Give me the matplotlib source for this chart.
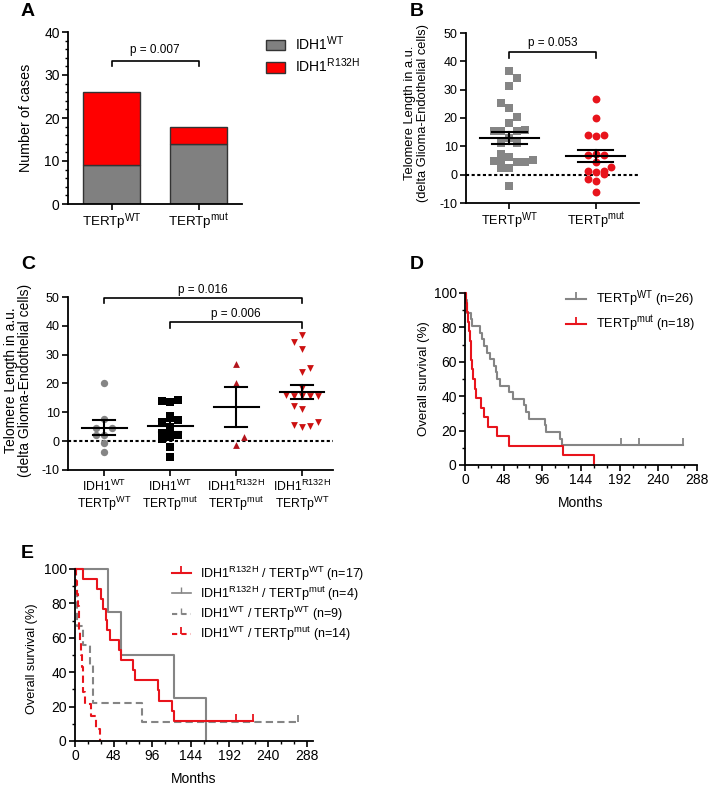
import numpy as np
import matplotlib
matplotlib.use('Agg')
import matplotlib.pyplot as plt
import matplotlib._mathtext as mt
from matplotlib.ticker import MultipleLocator
from matplotlib.lines import Line2D
from matplotlib.patches import Patch

plt.rcParams['font.family'] = ['Liberation Sans', 'DejaVu Sans']
plt.rcParams['mathtext.fontset'] = 'custom'
plt.rcParams['mathtext.rm'] = 'Liberation Sans'
plt.rcParams['mathtext.it'] = 'Liberation Sans:italic'
plt.rcParams['mathtext.bf'] = 'Liberation Sans:bold'
plt.rcParams['axes.unicode_minus'] = False
# superscripts in the figure are a touch larger than mathtext's default
mt.SHRINK_FACTOR = 0.75


def sup(base, s):
    return base + r'$^{\mathrm{' + s + '}}$'


WT, MUT, R132 = 'WT', 'mut', 'R132H'

# ---- A: stacked bars ----
a_groups = [sup('TERTp', WT), sup('TERTp', MUT)]
a_idh_wt = [9, 14]
a_idh_r132h = [17, 4]

# ---- B: telomere length by TERTp status ----
b_groups = [sup('TERTp', WT), sup('TERTp', MUT)]
b_wt_vals = [36.7, 34.1, 31.4, 25.2, 23.7, 20.3, 18.3, 15.5, 15.5, 15.5, 15.6, 13.0,
             11.3, 11.3, 7.4, 6.1, 4.8, 4.3, 4.3, 4.6, 5.2, 2.3, 2.3, -4.0]
b_wt_jit = [0, .09, 0, -.09, 0, .09, 0, -.18, -.09, .09, .18, 0,
            -.09, .09, -.09, 0, -.18, -.09, .09, .18, .27, -.09, 0, 0]
b_mut_vals = [26.6, 20.1, 13.9, 13.6, 14.0, 7.2, 6.8, 6.8, 4.4, 2.6, 1.4, 0.9, 1.2,
              -1.6, -2.1, -6.2, 0.3]
b_mut_jit = [0, 0, -.09, 0, .09, 0, -.09, .09, 0, .18, -.09, 0, .09,
             -.09, 0, 0, .09]
b_mean = [13.0, 6.6]
b_sem = [2.2, 2.05]

# ---- C: telomere length by IDH1 / TERTp ----
c_groups = [sup('IDH1', WT) + '\n' + sup('TERTp', WT),
            sup('IDH1', WT) + '\n' + sup('TERTp', MUT),
            sup('IDH1', R132) + '\n' + sup('TERTp', MUT),
            sup('IDH1', R132) + '\n' + sup('TERTp', WT)]
c1_vals = [20.3, 7.6, 4.4, 4.4, 2.3, 2.3, -0.6, -3.8]
c1_jit = [0, 0, -.12, .12, -.12, 0, 0, 0]
c2_vals = [14.0, 13.6, 14.2, 8.6, 6.6, 7.2, 5.0, 2.8, 1.4, 2.0, 0.7, -1.9, -5.6]
c2_jit = [-.12, 0, .12, 0, -.12, .12, 0, -.12, 0, .12, -.12, 0, 0]
c3_vals = [26.8, 20.1, 1.6, -1.3]
c3_jit = [0, 0, .12, 0]
c4_vals = [36.9, 34.4, 31.9, 25.3, 23.9, 18.5, 16.0, 15.7, 15.7, 15.7, 15.5,
           12.2, 11.1, 5.6, 4.8, 5.1, 6.6]
c4_jit = [0, -.12, 0, .12, 0, 0, -.24, -.12, 0, .12, .24, -.12, 0, -.12, 0, .12, .24]
c_mean = [4.7, 5.2, 11.8, 17.0]
c_sem = [2.6, 1.9, 6.9, 2.5]

# ---- D: survival by TERTp (months, 1 = death, 0 = censored) ----
d_wt_t = [1.5, 2.5, 3, 8, 9, 19, 21, 23, 27, 31, 36, 38, 40, 43, 54, 59, 73, 76, 80,
          99, 101, 118, 121, 194, 216, 270]
d_wt_e = [1] * 23 + [0] * 3
d_mut_t = [1.5, 2.5, 3.5, 5, 6, 7, 8, 9, 10, 13, 14, 20, 23, 29, 40, 55, 122, 160]
d_mut_e = [1] * 18

# ---- E: survival by IDH1 / TERTp ----
e_r_wt_t = [9.6, 27, 32, 35, 38, 40, 44, 55, 57, 72, 74, 103, 105, 121, 123, 200, 221]
e_r_wt_e = [1] * 15 + [0] * 2
e_r_mut_t = [41, 57, 123, 163]
e_r_mut_e = [1] * 4
e_w_wt_t = [1, 2, 3, 9.5, 19, 22, 22.5, 83, 277]
e_w_wt_e = [1] * 8 + [0]
e_w_mut_t = [1, 2, 3.5, 4.5, 5.5, 6.5, 7.5, 8.5, 9.5, 10.5, 12, 20, 26, 31]
e_w_mut_e = [1] * 14

GRAY = '#858585'
RED = '#e8141c'
BARRED = '#ff0000'
DARKRED = '#b3151d'
TRIRED = '#cc1111'

W, H = 708, 788
fig = plt.figure(figsize=(W / 100, H / 100), dpi=100)


def add_ax(x0, y0, x1, y1):
    return fig.add_axes([x0 / W, 1 - y1 / H, (x1 - x0) / W, (y1 - y0) / H])


def style(ax, size):
    for s in ('top', 'right'):
        ax.spines[s].set_visible(False)
    for s in ('left', 'bottom'):
        ax.spines[s].set_linewidth(1.3)
    ax.tick_params(which='major', direction='out', length=4, width=1.2, labelsize=size, pad=2)
    ax.tick_params(which='minor', direction='out', length=2.5, width=1.0)


def bracket(ax, x0, x1, y, drop, label, ty):
    ax.plot([x0, x0, x1, x1], [y - drop, y, y, y - drop], color='black', lw=1.2, clip_on=False)
    ax.text((x0 + x1) / 2, ty, label, ha='center', va='center', fontsize=8.5)


def sem_bar(ax, x, m, s, half_mean, half_cap):
    ax.plot([x - half_mean, x + half_mean], [m, m], color='black', lw=1.5, zorder=5)
    ax.plot([x, x], [m - s, m + s], color='black', lw=1.5, zorder=5)
    for v in (m - s, m + s):
        ax.plot([x - half_cap, x + half_cap], [v, v], color='black', lw=1.5, zorder=5)


def km_steps(times, events):
    order = np.argsort(times, kind='stable')
    t = np.asarray(times, float)[order]
    e = np.asarray(events)[order]
    at_risk = len(t)
    s = 100.0
    xs, ys, cx, cy = [0.0], [100.0], [], []
    for ti, ei in zip(t, e):
        if ei:
            s *= (at_risk - 1) / at_risk
        else:
            cx.append(ti)
            cy.append(s)
        xs.append(ti)
        ys.append(s)
        at_risk -= 1
    return xs, ys, cx, cy


def km_plot(ax, times, events, color, ls='-'):
    xs, ys, cx, cy = km_steps(times, events)
    ax.step(xs, ys, where='post', color=color, lw=1.5, ls=ls, clip_on=False)
    if cx:
        ax.plot(cx, cy, ls='none', marker=2, ms=5, mew=1.3, color=color, clip_on=False)


# ---------- A ----------
ax = add_ax(68, 32, 242, 204)
style(ax, 10)
xa = np.arange(len(a_groups))
ax.bar(xa, a_idh_wt, width=0.66, color='#808080', edgecolor='#333333', lw=1)
ax.bar(xa, a_idh_r132h, width=0.66, bottom=a_idh_wt, color=BARRED, edgecolor='#333333', lw=1)
ax.set_xlim(-0.5, 1.5)
ax.set_ylim(0, 40)
ax.set_xticks(xa)
ax.set_xticklabels(a_groups, fontsize=9.6)
ax.yaxis.set_major_locator(MultipleLocator(10))
ax.yaxis.set_minor_locator(MultipleLocator(2))
ax.set_ylabel('Number of cases', fontsize=10.3)
ax.yaxis.set_label_coords(-0.2, 0.5)
bracket(ax, 0, 1, 33.3, 1.3, 'p = 0.007', 35.8)
ax.legend([Patch(facecolor='#808080', edgecolor='#333333'),
           Patch(facecolor=BARRED, edgecolor='#333333')],
          [sup('IDH1', WT), sup('IDH1', R132)],
          loc='upper left', bbox_to_anchor=(266 / W, 1 - 35 / H), bbox_transform=fig.transFigure,
          frameon=False, fontsize=10, handlelength=1.35, handleheight=0.75,
          handletextpad=0.75, labelspacing=0.3, borderpad=0, borderaxespad=0)

# ---------- B ----------
ax = add_ax(466, 33, 639, 203)
style(ax, 9)
ax.set_xlim(-0.5, 1.5)
ax.set_ylim(-10, 50)
ax.axhline(0, color='black', lw=1.5, ls=(0, (1.5, 1.2)), zorder=1)
ax.scatter(0 + np.array(b_wt_jit), b_wt_vals, marker='s', s=28, color=GRAY, lw=0, zorder=3)
ax.scatter(1 + np.array(b_mut_jit), b_mut_vals, marker='o', s=32, color=RED, lw=0, zorder=3)
for i in range(2):
    sem_bar(ax, i, b_mean[i], b_sem[i], 0.34, 0.2)
ax.set_xticks([0, 1])
ax.set_xticklabels(b_groups, fontsize=9.2)
ax.yaxis.set_major_locator(MultipleLocator(10))
ax.set_ylabel('Telomere Length in a.u.\n(delta Glioma-Endothelial cells)', fontsize=9.3,
              linespacing=1.05)
ax.yaxis.set_label_coords(-0.215, 0.53)
bracket(ax, 0, 1, 43.3, 2.0, 'p = 0.053', 46.6)

# ---------- C ----------
ax = add_ax(68, 297, 333, 470)
style(ax, 9)
ax.set_xlim(-0.55, 3.47)
ax.set_ylim(-10, 50)
ax.axhline(0, color='black', lw=1.5, ls=(0, (1.5, 1.2)), zorder=1)
ax.scatter(0 + np.array(c1_jit), c1_vals, marker='o', s=28, color=GRAY, lw=0, zorder=3)
ax.scatter(1 + np.array(c2_jit), c2_vals, marker='s', s=28, color='black', lw=0, zorder=3)
ax.scatter(2 + np.array(c3_jit), c3_vals, marker='^', s=24, color=DARKRED, lw=0, zorder=3)
ax.scatter(3 + np.array(c4_jit), c4_vals, marker='v', s=24, color=TRIRED, lw=0, zorder=3)
for i in range(4):
    sem_bar(ax, i, c_mean[i], c_sem[i], 0.34, 0.17)
ax.set_xticks(range(4))
ax.set_xticklabels(c_groups, fontsize=8.8, linespacing=1.05)
ax.yaxis.set_major_locator(MultipleLocator(10))
ax.set_ylabel('Telomere Length in a.u.\n(delta Glioma-Endothelial cells)', fontsize=10,
              linespacing=1.05)
ax.yaxis.set_label_coords(-0.135, 0.52)
bracket(ax, 0, 3, 49.7, 1.8, 'p = 0.016', 52.6)
bracket(ax, 1, 3, 41.4, 2.0, 'p = 0.006', 44.2)

# ---------- D ----------
ax = add_ax(465, 293, 697, 465)
style(ax, 10)
km_plot(ax, d_wt_t, d_wt_e, GRAY)
km_plot(ax, d_mut_t, d_mut_e, RED)
ax.set_xlim(0, 288)
ax.set_ylim(0, 100)
ax.xaxis.set_major_locator(MultipleLocator(48))
ax.xaxis.set_minor_locator(MultipleLocator(16))
ax.yaxis.set_major_locator(MultipleLocator(20))
ax.yaxis.set_minor_locator(MultipleLocator(10))
ax.set_xlabel('Months', fontsize=10, labelpad=6)
ax.set_ylabel('Overall survival (%)', fontsize=9.5)
ax.yaxis.set_label_coords(-0.153, 0.5)
h = [Line2D([0], [0], color=GRAY, lw=1.5, marker=2, ms=5, mew=1.3),
     Line2D([0], [0], color=RED, lw=1.5, marker=2, ms=5, mew=1.3)]
ax.legend(h, [sup('TERTp', WT) + ' (n=26)', sup('TERTp', MUT) + ' (n=18)'],
          loc='upper left', bbox_to_anchor=(566 / W, 1 - 289 / H), bbox_transform=fig.transFigure,
          frameon=False, fontsize=9.2, handlelength=1.6, handletextpad=0.75,
          labelspacing=0.3, borderpad=0, borderaxespad=0)

# ---------- E ----------
ax = add_ax(75, 569, 313, 741)
style(ax, 10)
km_plot(ax, e_w_wt_t, e_w_wt_e, GRAY, ls=(0, (3.5, 2)))
km_plot(ax, e_r_mut_t, e_r_mut_e, GRAY)
km_plot(ax, e_r_wt_t, e_r_wt_e, RED)
km_plot(ax, e_w_mut_t, e_w_mut_e, RED, ls=(0, (3.5, 2)))
ax.set_xlim(0, 296)
ax.set_ylim(0, 100)
ax.xaxis.set_major_locator(MultipleLocator(48))
ax.xaxis.set_minor_locator(MultipleLocator(16))
ax.yaxis.set_major_locator(MultipleLocator(20))
ax.yaxis.set_minor_locator(MultipleLocator(10))
ax.set_xlabel('Months', fontsize=10, labelpad=6)
ax.set_ylabel('Overall survival (%)', fontsize=9.2)
ax.yaxis.set_label_coords(-0.155, 0.48)
h = [Line2D([0], [0], color=RED, lw=1.5, marker=2, ms=5, mew=1.3),
     Line2D([0], [0], color=GRAY, lw=1.2, marker=2, ms=4, mew=1.0),
     Line2D([0], [0], color=GRAY, lw=1.5, ls=(0, (2.5, 2)), marker=2, ms=4, mew=1.0),
     Line2D([0], [0], color=RED, lw=1.5, ls=(0, (2.5, 2)), marker=2, ms=5, mew=1.3)]
ax.legend(h, [sup('IDH1', R132) + ' / ' + sup('TERTp', WT) + ' (n=17)',
              sup('IDH1', R132) + ' / ' + sup('TERTp', MUT) + ' (n=4)',
              sup('IDH1', WT) + ' / ' + sup('TERTp', WT) + ' (n=9)',
              sup('IDH1', WT) + ' / ' + sup('TERTp', MUT) + ' (n=14)'],
          loc='upper left', bbox_to_anchor=(172 / W, 1 - 564 / H), bbox_transform=fig.transFigure,
          frameon=False, fontsize=9, handlelength=1.5, handletextpad=0.75,
          labelspacing=0.12, borderpad=0, borderaxespad=0)

# panel letters
for lbl, x, y in [('A', 21, 11), ('B', 410, 11), ('C', 21, 265), ('D', 410, 265), ('E', 21, 553)]:
    fig.text(x / W, 1 - y / H, lbl, fontsize=14, fontweight='bold', ha='left', va='center')

fig.savefig('out.png', dpi=100, facecolor='white')
